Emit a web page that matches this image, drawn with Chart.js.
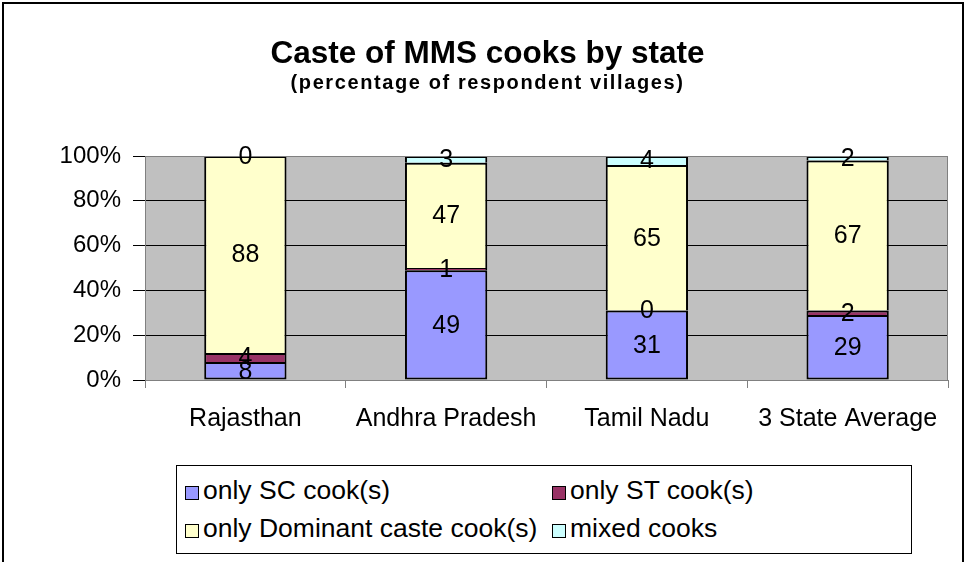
<!DOCTYPE html>
<html>
<head>
<meta charset="utf-8">
<title>Caste of MMS cooks by state</title>
<script src="https://cdn.jsdelivr.net/npm/chart.js@4"></script>
<style>
  html, body { margin: 0; padding: 0; background: #fff; }
  body { width: 968px; height: 562px; overflow: hidden; position: relative; font-family: "Liberation Sans", Arial, sans-serif; }
  #wrap { position: absolute; left: 0; top: 0; width: 968px; height: 562px; }
  #frame { position: absolute; left: 2px; top: 2px; width: 958px; height: 600px; border: 2px solid #000; pointer-events: none; }
  #legend { position: absolute; left: 176px; top: 465px; width: 734px; height: 87px; border: 1px solid #000; background: #fff; }
  .lg-item { position: absolute; font-size: 26.5px; line-height: 30px; color: #000; white-space: nowrap; }
  .lg-box { display: inline-block; width: 12px; height: 12px; border: 1px solid #000; margin-right: 4px; vertical-align: -1px; }
</style>
</head>
<body>
<div id="wrap"><canvas id="chart"></canvas></div>
<div id="legend"></div>
<div id="frame"></div>

<script>
// ── dados (percentagem de aldeias) ───────────────────────────────────────────
const STATES    = ['Rajasthan', 'Andhra Pradesh', 'Tamil Nadu', '3 State Average'];
const ONLY_SC   = [8, 49, 31, 29];
const ONLY_ST   = [4, 1, 0, 2];
const DOMINANT  = [88, 47, 65, 67];
const MIXED     = [0, 3, 4, 2];
const Y_TICKS   = [0, 20, 40, 60, 80, 100];

const TITLE     = 'Caste of MMS cooks by state';
const SUBTITLE  = '(percentage of respondent villages)';

const FONT = '"Liberation Sans", Arial, sans-serif';

const SERIES = [
  { label: 'only SC cook(s)',             data: ONLY_SC,  color: '#9999FF' },
  { label: 'only ST cook(s)',             data: ONLY_ST,  color: '#993366' },
  { label: 'only Dominant caste cook(s)', data: DOMINANT, color: '#FFFFCC' },
  { label: 'mixed cooks',                 data: MIXED,    color: '#CCFFFF' },
];

// fundo cinzento da área do gráfico + contorno (estilo Excel)
const plotBg = {
  id: 'plotBg',
  beforeDraw(chart) {
    const { ctx, chartArea: a } = chart;
    ctx.save();
    ctx.fillStyle = '#C0C0C0';
    ctx.fillRect(a.left, a.top, a.right - a.left, a.bottom - a.top);
    ctx.restore();
  },
  afterDatasetsDraw(chart) {
    const { ctx, chartArea: a } = chart;
    ctx.save();
    ctx.strokeStyle = '#808080';
    ctx.lineWidth = 1;
    ctx.beginPath();
    ctx.moveTo(a.left, a.top + 0.5);
    ctx.lineTo(a.right - 0.5, a.top + 0.5);
    ctx.lineTo(a.right - 0.5, a.bottom);
    ctx.stroke();
    ctx.restore();
  }
};

// subtítulo com espaçamento entre letras (o plugin de título não o suporta)
const subtitleText = {
  id: 'subtitleText',
  afterDraw(chart) {
    const t = chart.titleBlock;
    const { ctx } = chart;
    ctx.save();
    ctx.font = 'bold 20px ' + FONT;
    ctx.letterSpacing = '1.6px';
    ctx.fillStyle = '#000';
    ctx.textAlign = 'center';
    ctx.textBaseline = 'alphabetic';
    ctx.fillText(SUBTITLE, (t.left + t.right) / 2, 89);
    ctx.restore();
  }
};

// valores dentro de cada segmento (não há chartjs-plugin-datalabels aqui)
const barValues = {
  id: 'barValues',
  afterDatasetsDraw(chart) {
    const { ctx } = chart;
    ctx.save();
    ctx.font = '25px ' + FONT;
    ctx.fillStyle = '#000';
    ctx.textAlign = 'center';
    ctx.textBaseline = 'middle';
    chart.data.datasets.forEach((ds, i) => {
      chart.getDatasetMeta(i).data.forEach((bar, j) => {
        const p = bar.getCenterPoint();
        ctx.fillText(String(ds.data[j]), p.x, p.y + 1);
      });
    });
    ctx.restore();
  }
};

new Chart(document.getElementById('chart'), {
  type: 'bar',
  data: {
    labels: STATES,
    datasets: SERIES.map((s, i) => ({
      label: s.label,
      data: s.data,
      backgroundColor: s.color,
      borderColor: '#000',
      borderWidth: 2,
      borderSkipped: i === 0 ? false : 'start',
      barPercentage: 0.41,
      categoryPercentage: 1
    }))
  },
  options: {
    responsive: true,
    maintainAspectRatio: false,
    animation: false,
    layout: { padding: { left: 27, right: 20, top: 0, bottom: 122 } },
    plugins: {
      legend: { display: false },
      tooltip: { enabled: false },
      title: {
        display: true,
        text: TITLE,
        color: '#000',
        font: { family: FONT, size: 31.5, weight: 'bold' },
        padding: { top: 35, bottom: 83.2 }
      }
    },
    scales: {
      x: {
        stacked: true,
        afterFit: s => { s.height = 60; },
        grid: { display: true, drawOnChartArea: false, offset: true, tickLength: 8, color: '#808080' },
        border: { color: '#808080', width: 1 },
        ticks: { color: '#000', padding: 16, font: { family: FONT, size: 25 } }
      },
      y: {
        stacked: true,
        min: 0,
        max: 100,
        afterFit: s => { s.width = 118; },
        afterBuildTicks: s => { s.ticks = Y_TICKS.map(v => ({ value: v })); },
        grid: {
          color: ctx => (ctx.tick && ctx.tick.value === 100 ? '#808080' : '#000'),
          tickColor: '#000',
          tickLength: 12,
          lineWidth: 1
        },
        border: { color: '#808080', width: 1 },
        ticks: { color: '#000', padding: 12, font: { family: FONT, size: 24 }, callback: v => v + '%' }
      }
    }
  },
  plugins: [plotBg, subtitleText, barValues]
});

// legenda em HTML: duas colunas alinhadas como no original
const LEGEND_POS = [
  { x: 8,   y: 9 },
  { x: 375, y: 9 },
  { x: 8,   y: 47 },
  { x: 375, y: 47 },
];
const legendEl = document.getElementById('legend');
SERIES.forEach((s, i) => {
  const item = document.createElement('div');
  item.className = 'lg-item';
  item.style.left = LEGEND_POS[i].x + 'px';
  item.style.top  = LEGEND_POS[i].y + 'px';
  const box = document.createElement('span');
  box.className = 'lg-box';
  box.style.background = s.color;
  item.appendChild(box);
  item.appendChild(document.createTextNode(s.label));
  legendEl.appendChild(item);
});
</script>
</body>
</html>
